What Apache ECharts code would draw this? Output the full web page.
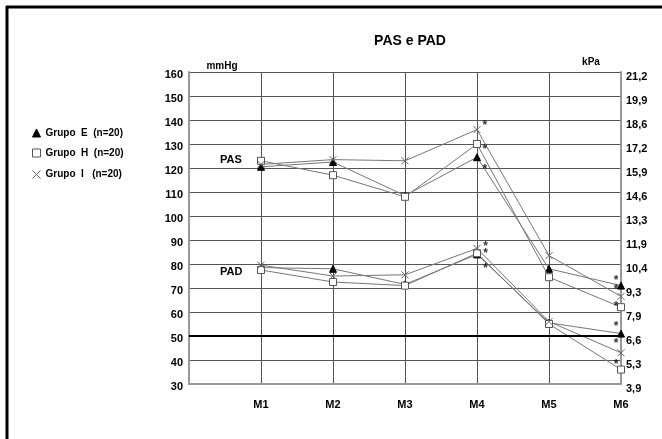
<!DOCTYPE html>
<html>
<head>
<meta charset="utf-8">
<script src="https://cdn.jsdelivr.net/npm/echarts@6/dist/echarts.min.js"></script>
<style>
  html, body { margin: 0; padding: 0; background: #fff; }
  #chart { width: 662px; height: 439px; }
</style>
</head>
<body>
<div id="chart"></div>
<script>
const moments = ['M1', 'M2', 'M3', 'M4', 'M5', 'M6']
const kpaLabels = ['3,9', '5,3', '6,6', '7,9', '9,3', '10,4', '11,9', '13,3', '14,6', '15,9', '17,2', '18,6', '19,9', '21,2']
const groupNames = ['Grupo  E  (n=20)', 'Grupo  H  (n=20)', 'Grupo  I   (n=20)']

// PAS (systolic), mmHg
const pasE = [120.5, 122.5, 108.5, 124.5, 78, 71]
const pasH = [123, 117, 108, 130, 74.5, 62]
const pasI = [121.5, 123.5, 123, 136, 83.5, 66.5]
// PAD (diastolic), mmHg
const padE = [78.5, 78, 71.5, 84, 55.5, 51]
const padH = [77.5, 72.5, 71, 84.5, 55, 36]
const padI = [79.5, 75, 75.5, 86.5, 56, 43]
// significance marks [x, mmHg]
const stars = [[4.11, 139], [4.11, 129], [4.11, 120.5], [4.12, 88.5], [4.12, 85.5], [4.12, 79.5],
  [5.93, 74.5], [5.93, 70.5], [5.93, 63.5], [5.93, 55], [5.93, 48], [5.93, 39.5]]

const FONT = '"Liberation Sans", Arial, sans-serif'
const crossPath = 'path://M0,0L10,10M10,0L0,10'
const markers = [
  { symbol: 'triangle', itemStyle: { color: '#000', borderColor: '#000', borderWidth: 1 } },
  { symbol: 'rect', itemStyle: { color: '#fff', borderColor: '#555', borderWidth: 1 } },
  { symbol: crossPath, itemStyle: { color: 'none', borderColor: '#666', borderWidth: 1 } }
]

const toXY = arr => arr.map((v, i) => [i + 1, v])

function lineSeries(name, data, m) {
  return {
    name, type: 'line', data: toXY(data),
    symbol: m.symbol, symbolSize: 7,
    itemStyle: m.itemStyle,
    lineStyle: { color: '#777', width: 1 },
    z: 3
  }
}

const chart = echarts.init(document.getElementById('chart'))
const series = [
  lineSeries(groupNames[0], pasE, markers[0]),
  lineSeries(groupNames[1], pasH, markers[1]),
  lineSeries(groupNames[2], pasI, markers[2]),
  lineSeries(groupNames[0], padE, markers[0]),
  lineSeries(groupNames[1], padH, markers[1]),
  lineSeries(groupNames[2], padI, markers[2]),
  {
    name: 'sig', type: 'scatter', data: stars, symbolSize: 0,
    label: { show: true, formatter: '*', color: '#000', fontFamily: FONT, fontWeight: 'bold', fontSize: 12, offset: [0, 3] },
    z: 4
  }
]
series[0].markLine = {
  silent: true, symbol: 'none', label: { show: false },
  lineStyle: { color: '#000', width: 2, type: 'solid' },
  data: [{ yAxis: 50 }]
}
series[3].z = 2; series[0].z = 2

chart.setOption({
  animation: false,
  backgroundColor: '#fff',
  textStyle: { fontFamily: FONT },
  title: {
    text: 'PAS e PAD', left: 405, top: 29, textAlign: 'center',
    textStyle: { fontFamily: FONT, fontSize: 14, fontWeight: 'bold', color: '#000' }
  },
  legend: {
    orient: 'vertical', left: 25, top: 123, itemWidth: 8, itemHeight: 8, itemGap: 10,
    textStyle: { fontFamily: FONT, fontSize: 10, fontWeight: 'bold', color: '#000' },
    data: groupNames.map((n, i) => ({ name: n, icon: markers[i].symbol, itemStyle: markers[i].itemStyle }))
  },
  grid: { left: 189, right: 41, top: 72, bottom: 55 },
  xAxis: {
    type: 'value', min: 0, max: 6, interval: 1,
    axisLine: { show: true, lineStyle: { color: '#999', width: 2 } },
    axisTick: { show: false },
    splitLine: { show: true, lineStyle: { color: '#555', width: 1 } },
    axisLabel: {
      margin: 15, color: '#000', fontFamily: FONT, fontWeight: 'bold', fontSize: 11,
      formatter: v => (v >= 1 ? moments[v - 1] : '')
    }
  },
  yAxis: [
    {
      type: 'value', min: 30, max: 160, interval: 10, position: 'left',
      name: 'mmHg', nameLocation: 'end', nameGap: 1,
      nameTextStyle: { fontFamily: FONT, fontSize: 10, fontWeight: 'bold', color: '#000', align: 'center', padding: [0, 0, 0, 66] },
      axisLine: { show: true, lineStyle: { color: '#999', width: 2 } },
      axisTick: { show: false },
      splitLine: { show: true, lineStyle: { color: '#555', width: 1 } },
      axisLabel: { margin: 6, color: '#000', fontFamily: FONT, fontWeight: 'bold', fontSize: 11, verticalAlign: 'top', lineHeight: 6 }
    },
    {
      type: 'value', min: 30, max: 160, interval: 10, position: 'right',
      name: 'kPa', nameLocation: 'end', nameGap: 5,
      nameTextStyle: { fontFamily: FONT, fontSize: 10, fontWeight: 'bold', color: '#000', align: 'center', padding: [0, 60, 0, 0] },
      axisLine: { show: true, lineStyle: { color: '#999', width: 2 } },
      axisTick: { show: false },
      splitLine: { show: false },
      axisLabel: {
        margin: 5, color: '#000', fontFamily: FONT, fontWeight: 'bold', fontSize: 11, verticalAlign: 'top', lineHeight: 10,
        formatter: v => kpaLabels[Math.round((v - 30) / 10)]
      }
    }
  ],
  graphic: [
    { type: 'line', shape: { x1: 6, y1: 7, x2: 662, y2: 7 }, style: { stroke: '#000', lineWidth: 3 } },
    { type: 'line', shape: { x1: 7, y1: 6, x2: 7, y2: 439 }, style: { stroke: '#000', lineWidth: 3 } },
    { type: 'text', left: 220, top: 154, style: { text: 'PAS', fontFamily: FONT, fontSize: 11, fontWeight: 'bold', fill: '#000' } },
    { type: 'text', left: 220, top: 266, style: { text: 'PAD', fontFamily: FONT, fontSize: 11, fontWeight: 'bold', fill: '#000' } }
  ],
  series
})
</script>
</body>
</html>
